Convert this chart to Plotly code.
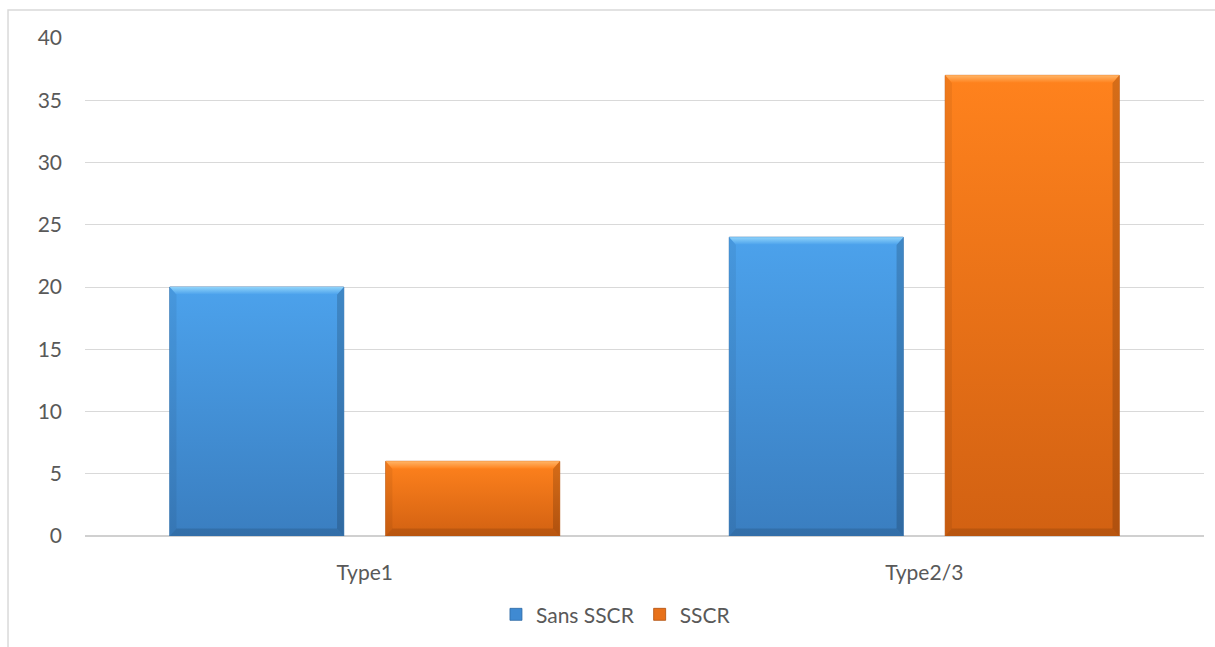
import plotly.graph_objects as go

# Data
categories = ["Type1", "Type2/3"]
series_names = ["Sans SSCR", "SSCR"]
sans_sscr = [20, 24]
sscr = [6, 37]
y_ticks = [0, 5, 10, 15, 20, 25, 30, 35, 40]

series_values = [sans_sscr, sscr]

# Face gradient, top bevel highlight and legend colour per series
palettes = [
    dict(top="#4ca2ec", bottom="#3a7ec0", bevel_top="#8fd3fa",
         edge="#2f6aa3", solid="#3f8ad2"),
    dict(top="#ff821d", bottom="#d26112", bevel_top="#ffb466",
         edge="#b04f0c", solid="#e8711a"),
]

bar_width = 0.311      # fraction of a category slot
slot = 0.386           # distance between bar centres in a group
bevel_x = 0.012        # bevel thickness in x data units
bevel_y = 0.6          # bevel thickness in y data units

fig = go.Figure()

x_pos = list(range(len(categories)))

# Base bars (also provide the legend swatches)
for i, (name, vals) in enumerate(zip(series_names, series_values)):
    offset_c = (i - 0.5) * slot
    fig.add_trace(go.Bar(
        x=x_pos, y=vals, name=name,
        width=bar_width, offset=offset_c - bar_width / 2,
        marker=dict(color=palettes[i]["solid"],
                    line=dict(color=palettes[i]["edge"], width=0.8)),
        hoverinfo="x+y",
    ))


def poly(xs, ys, **kw):
    return go.Scatter(x=xs + [xs[0]], y=ys + [ys[0]], mode="lines",
                      fill="toself", line=dict(width=0), showlegend=False,
                      hoverinfo="skip", **kw)


# Gradient faces with bevelled edges
for i, vals in enumerate(series_values):
    pal = palettes[i]
    offset_c = (i - 0.5) * slot
    for xc, h in zip(x_pos, vals):
        x0 = xc + offset_c - bar_width / 2
        x1 = xc + offset_c + bar_width / 2
        # main face
        fig.add_trace(poly([x0, x1, x1, x0], [0, 0, h, h],
                           fillgradient=dict(type="vertical",
                                             colorscale=[[0, pal["bottom"]], [1, pal["top"]]])))
        # left bevel
        fig.add_trace(poly([x0, x0 + bevel_x, x0 + bevel_x, x0],
                           [0, bevel_y, h - bevel_y, h],
                           fillcolor="rgba(0,0,0,0.06)"))
        # right bevel
        fig.add_trace(poly([x1, x1 - bevel_x, x1 - bevel_x, x1],
                           [0, bevel_y, h - bevel_y, h],
                           fillcolor="rgba(0,0,0,0.16)"))
        # bottom bevel
        fig.add_trace(poly([x0, x1, x1 - bevel_x, x0 + bevel_x],
                           [0, 0, bevel_y, bevel_y],
                           fillcolor="rgba(0,0,0,0.12)"))
        # top bevel
        fig.add_trace(poly([x0, x1, x1 - bevel_x, x0 + bevel_x],
                           [h, h, h - bevel_y, h - bevel_y],
                           fillgradient=dict(type="vertical",
                                             colorscale=[[0, pal["top"]], [1, pal["bevel_top"]]])))

font_family = "Lato, 'Open Sans', sans-serif"
text_color = "#595959"

# Left/top outline of the chart area
fig.add_shape(type="rect", xref="paper", yref="paper",
              x0=-0.0688, x1=1.05, y0=-0.4, y1=1.0562,
              line=dict(color="#d9d9d9", width=1.5), fillcolor="rgba(0,0,0,0)",
              layer="below")

fig.update_layout(
    width=1215, height=647,
    margin=dict(l=85, r=11, t=38, b=111),
    paper_bgcolor="white", plot_bgcolor="white",
    barmode="overlay",
    font=dict(family=font_family, size=21, color=text_color),
    showlegend=True,
    legend=dict(orientation="h", x=0.4745, xanchor="center", y=-0.158, yanchor="middle",
                font=dict(size=21, color=text_color), traceorder="normal",
                itemwidth=30),
    xaxis=dict(range=[-0.5, 1.5], tickmode="array", tickvals=x_pos, ticktext=categories,
               showgrid=False, zeroline=False, showline=False, ticks="",
               ticklabelstandoff=22, fixedrange=True),
    yaxis=dict(range=[0, 40], tickmode="array", tickvals=y_ticks,
               showgrid=True, gridcolor="#d9d9d9", gridwidth=1.2,
               zeroline=True, zerolinecolor="#d0d0d0", zerolinewidth=2,
               showline=False, ticks="", ticklabelstandoff=22, fixedrange=True),
)

fig.write_html("out.html")
